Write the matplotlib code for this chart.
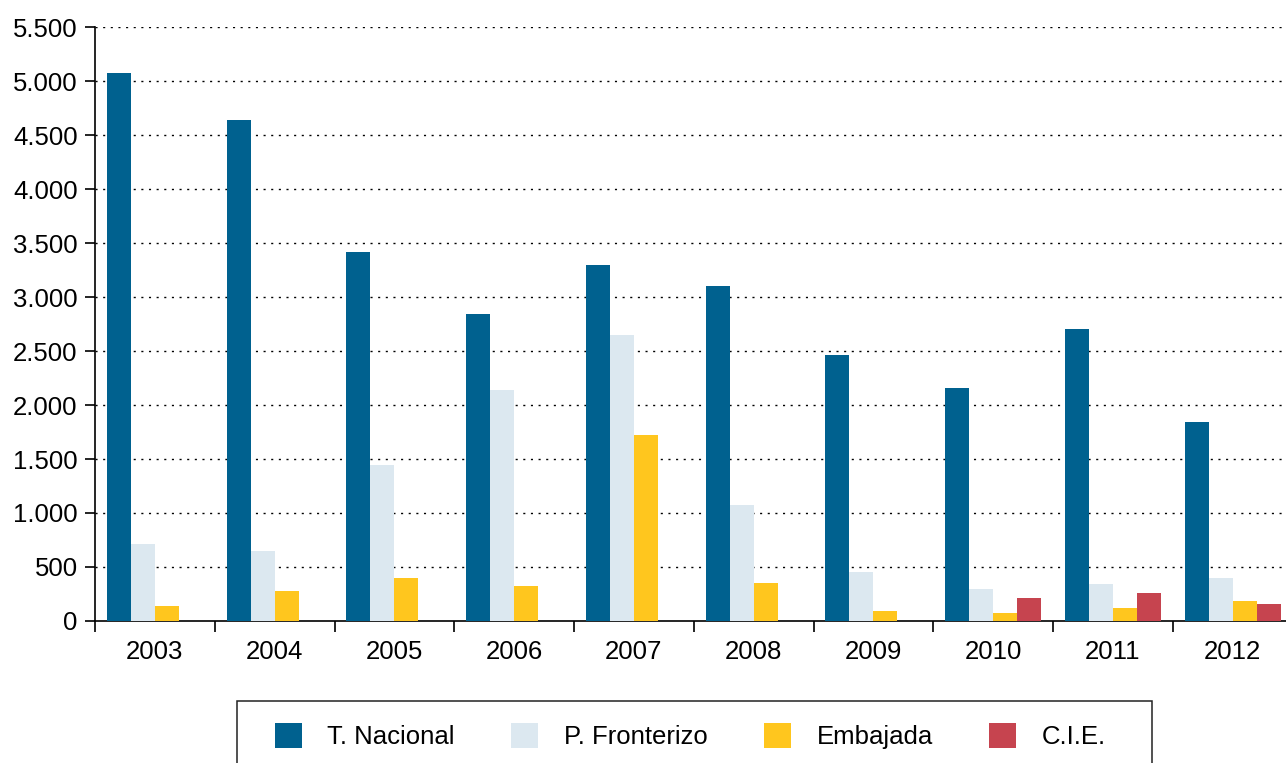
import numpy as np
import matplotlib
matplotlib.use('Agg')
import matplotlib.pyplot as plt
from matplotlib.patches import Rectangle
from matplotlib.ticker import FuncFormatter

plt.rcParams['font.family'] = ['Liberation Sans', 'DejaVu Sans']

# data
years = ['2003', '2004', '2005', '2006', '2007', '2008', '2009', '2010', '2011', '2012']
nacional = [5070, 4635, 3415, 2840, 3295, 3100, 2460, 2155, 2700, 1840]
fronterizo = [715, 650, 1445, 2140, 2645, 1075, 455, 295, 345, 400]
embajada = [140, 280, 400, 325, 1720, 350, 95, 75, 120, 185]
cie = [0, 0, 0, 0, 0, 0, 0, 215, 260, 160]

series = [nacional, fronterizo, embajada, cie]
names = ['T. Nacional', 'P. Fronterizo', 'Embajada', 'C.I.E.']
colors = ['#00618F', '#DCE8F0', '#FFC61E', '#C6444F']

fig = plt.figure(figsize=(12.86, 7.63), dpi=100)
# plot area runs a little past the right edge of the figure
ax = fig.add_axes([95/1286, 1-621/763, 1197.5/1286, 594/763])

x = np.arange(len(years))
w = 0.2
handles = []
for k, (vals, nm, c) in enumerate(zip(series, names, colors)):
    b = ax.bar(x + 0.1 + k*w, vals, width=w, align='edge', color=c, label=nm, zorder=3)
    handles.append(b)

ax.set_xlim(0, len(years))
ax.set_ylim(0, 5500)
ax.set_yticks(np.arange(0, 5501, 500))
ax.yaxis.set_major_formatter(FuncFormatter(lambda v, p: '{:,.0f}'.format(v).replace(',', '.')))

ax.set_xticks(np.arange(0, len(years)+1))
ax.set_xticklabels([])
ax.set_xticks(x + 0.5, minor=True)
ax.set_xticklabels(years, minor=True)
ax.tick_params(axis='x', which='minor', length=0, pad=14, labelsize=18.5)
ax.tick_params(axis='x', which='major', length=8, width=1.2, direction='out')
ax.tick_params(axis='y', length=7.5, width=1.2, pad=5, labelsize=18.5)

for v in np.arange(500, 5501, 500):
    ax.axhline(v, color='black', lw=1.0, ls=(0, (1.5, 4)), zorder=1)

for s in ['top', 'right']:
    ax.spines[s].set_visible(False)
ax.spines['left'].set_linewidth(1.2)
ax.spines['bottom'].set_linewidth(1.2)

# legend box, runs off the bottom of the figure
fig.patches.append(Rectangle((237/1286, -0.05), (1152-237)/1286, 0.05 + 62/763,
                             transform=fig.transFigure, fill=False,
                             edgecolor='#222222', lw=1.1))
fig.legend(handles=handles, loc='center left', bbox_to_anchor=(262/1286, 1-736/763),
           ncol=4, frameon=False, fontsize=18.5, handlelength=1.04, handleheight=1.1,
           handletextpad=1.0, columnspacing=2.2, borderpad=0)

fig.savefig('out.png', dpi=100)
